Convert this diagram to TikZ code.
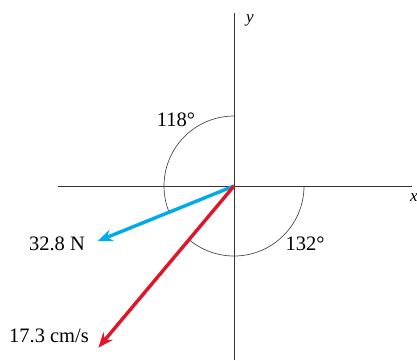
\documentclass[tikz,border=0pt]{standalone}
\usepackage{fontspec}
\setmainfont{Liberation Serif}
\usetikzlibrary{arrows.meta}
\definecolor{vecblue}{RGB}{0,170,235}
\definecolor{vecred}{RGB}{225,20,40}
\begin{document}
\begin{tikzpicture}[x=1pt,y=1pt]
      \tikzstyle{axis}=[draw,line width=0.9pt,black!80]
      \tikzstyle{arcline}=[draw,line width=0.7pt,black!70]
      \tikzstyle{vec}=[draw,line width=3.4pt,-{Stealth[length=15pt,width=12pt]}]
      \tikzstyle{lbl}=[font=\fontsize{20.5}{24}\selectfont]
      \tikzstyle{axlbl}=[font=\fontsize{17}{19}\selectfont\itshape]
      \useasboundingbox (0,0) rectangle (417,360);
      \coordinate (O) at (234,174);
      \coordinate (xl) at (58,174);
      \coordinate (xr) at (412,174);
      \coordinate (yb) at (234,0);
      \coordinate (yt) at (234,347);
      \coordinate (F) at ([shift={(202:147)}]O);
      \coordinate (V) at ([shift={(230:211)}]O);
      \path[axis] (xl) -- (xr);
      \path[axis] (yb) -- (yt);
      \path[arcline] ([shift={(90:70)}]O) arc[start angle=90,end angle=202,radius=70];
      \path[arcline] ([shift={(0:70)}]O) arc[start angle=0,end angle=-130,radius=70];
      \path[vec,vecblue] (O) -- (F);
      \path[vec,vecred] (O) -- (V);
      \node[axlbl] (xlab) at (414,162) {x};
      \node[axlbl] (ylab) at (250,340) {y};
      \node[lbl] (a118) at (176,240) {118°};
      \node[lbl] (a132) at (305,116) {132°};
      \node[lbl] (Flab) at (57,116) {32.8 N};
      \node[lbl] (Vlab) at (49,24) {17.3 cm/s};
\end{tikzpicture}
\end{document}
